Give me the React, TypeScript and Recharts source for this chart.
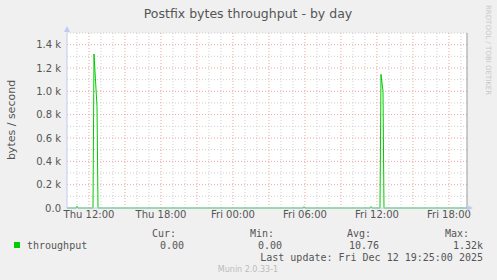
import { CartesianGrid, Line, LineChart, ReferenceLine, XAxis, YAxis } from "recharts";

// time in hours counted from Thu 00:00, value in bytes / second
const times = [10.1667, 10.917, 11.0, 11.083, 12.333, 12.4167, 12.667, 12.75, 29.833, 29.917, 30.0, 35.417, 35.5, 35.583, 36.25, 36.333, 36.5, 36.583, 43.5];
const throughput = [0, 0, 15, 0, 0, 1320, 870, 0, 0, 12, 0, 0, 12, 0, 0, 1145, 1000, 0, 0];

const xTicks = [12, 18, 24, 30, 36, 42];
const xTickLabels = ["Thu 12:00", "Thu 18:00", "Fri 00:00", "Fri 06:00", "Fri 12:00", "Fri 18:00"];
const yTicks = [0, 200, 400, 600, 800, 1000, 1200, 1400];

const minorY = [100, 300, 500, 700, 900, 1100, 1300, 1500];
const majorY = [200, 400, 600, 800, 1000, 1200, 1400];
const minorX = [11, 13, 14, 16, 17, 19, 20, 22, 23, 25, 26, 28, 29, 31, 32, 34, 35, 37, 38, 40, 41, 43];
const majorX = [12, 15, 18, 21, 24, 27, 30, 33, 36, 39, 42];

const legendHead = ["Cur:", "Min:", "Avg:", "Max:"];
const legendVals = ["0.00", "0.00", "10.76", "1.32k"];

const data = times.map((t, i) => ({ t, v: throughput[i] }));

const AXIS = "#c4c8f4";
const TXT = "#555555";

const fmtY = (v: number) => (v === 0 ? "0.0" : (v / 1000).toFixed(1) + " k");
const fmtX = (v: number) => xTickLabels[xTicks.indexOf(v)] ?? "";

function App() {
  const headX = [176, 274, 371, 469];
  const valX = [184, 282, 379, 483];
  return (
    <div style={{ position: "absolute", left: 0, top: 0, width: 497, height: 280, background: "#f0f0f0", fontFamily: "DejaVu Sans" }}>
      <LineChart width={497} height={280} data={data} margin={{ top: 33, right: 30, bottom: 42, left: 0 }}>
        <CartesianGrid horizontal={false} vertical={false} fill="#ffffff" fillOpacity={1} />
        {minorX.map((x) => (
          <ReferenceLine key={`mx${x}`} x={x} stroke="#cfcfcf" strokeDasharray="1 2" />
        ))}
        {minorY.map((y) => (
          <ReferenceLine key={`my${y}`} y={y} stroke="#cfcfcf" strokeDasharray="1 2" />
        ))}
        {majorX.map((x) => (
          <ReferenceLine key={`Mx${x}`} x={x} stroke="#f2a0a0" strokeDasharray="1 2" />
        ))}
        {majorY.map((y) => (
          <ReferenceLine key={`My${y}`} y={y} stroke="#f2a0a0" strokeDasharray="1 2" />
        ))}
        <ReferenceLine x={43.5} stroke="#9a9a9a" />
        <XAxis
          dataKey="t"
          type="number"
          domain={[10.1667, 43.5]}
          ticks={xTicks}
          tickFormatter={fmtX}
          interval={0}
          height={30}
          tickSize={0}
          tickMargin={3}
          axisLine={{ stroke: AXIS }}
          tick={{ fill: TXT, fontSize: 10, fontFamily: "DejaVu Sans" }}
        />
        <YAxis
          type="number"
          domain={[0, 1500]}
          ticks={yTicks}
          tickFormatter={fmtY}
          interval={0}
          width={67}
          tickSize={0}
          tickMargin={6}
          axisLine={{ stroke: AXIS }}
          tick={{ fill: TXT, fontSize: 10, fontFamily: "DejaVu Sans" }}
        />
        <Line type="linear" dataKey="v" stroke="#00cc00" strokeWidth={1} dot={false} isAnimationActive={false} />
      </LineChart>
      <svg width={497} height={280} style={{ position: "absolute", left: 0, top: 0, pointerEvents: "none" }}>
        <polygon points="64,32 70,32 67,26" fill={AXIS} />
        <polygon points="467,205 467,211 473,208" fill={AXIS} />
        <text x={248} y={18} textAnchor="middle" fontSize={12.5} fill={TXT} fontFamily="DejaVu Sans">
          Postfix bytes throughput - by day
        </text>
        <text transform="translate(15,120) rotate(-90)" textAnchor="middle" fontSize={11} fill={TXT} fontFamily="DejaVu Sans">
          bytes / second
        </text>
        <text transform="translate(486,5) rotate(90)" textAnchor="start" fontSize={7} fill="#c8c8c8" fontFamily="DejaVu Sans">
          RRDTOOL / TOBI OETIKER
        </text>
        <rect x={14} y={242} width={6} height={6} fill="#00cc00" />
        <g fontFamily="DejaVu Sans Mono" fontSize={10} fill={TXT}>
          <text x={27} y={249}>throughput</text>
          {legendHead.map((h, i) => (
            <text key={h} x={headX[i]} y={237} textAnchor="end">{h}</text>
          ))}
          {legendVals.map((v, i) => (
            <text key={i} x={valX[i]} y={249} textAnchor="end">{v}</text>
          ))}
          <text x={483} y={261} textAnchor="end">Last update: Fri Dec 12 19:25:00 2025</text>
        </g>
        <text x={248} y={272} textAnchor="middle" fontSize={8} fill="#bbbbbb" fontFamily="DejaVu Sans">
          Munin 2.0.33-1
        </text>
      </svg>
    </div>
  );
}

export default App;
